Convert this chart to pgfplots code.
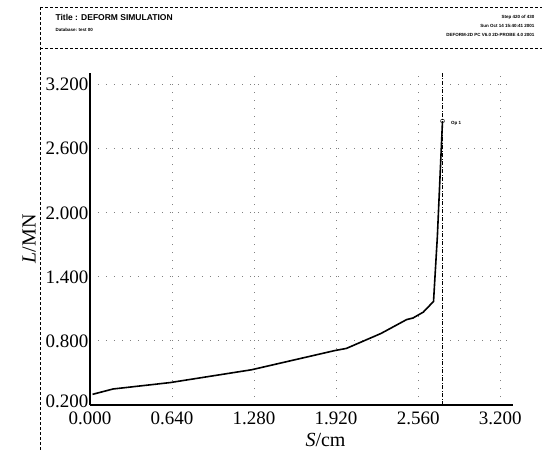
\documentclass[border=0pt]{standalone}
\usepackage{pgfplots}
\pgfplotsset{compat=1.18}
\usepackage{fontspec}
\setmainfont{Liberation Serif}
\newfontfamily\hdr{Liberation Sans}

\begin{document}
\begin{tikzpicture}[x=1pt,y=1pt]
\path[use as bounding box] (0,0) rectangle (542,451);
% header frame
\draw[densely dashed, line width=0.6pt] (40,444) -- (542,444);
\draw[densely dashed, line width=0.6pt] (40,403) -- (542,403);
\draw[densely dashed, line width=0.6pt] (40,444) -- (40,0);
\node[anchor=west, font=\hdr\bfseries\fontsize{8.5}{9}\selectfont] at (52,434) {Title : DEFORM SIMULATION};
\node[anchor=west, font=\hdr\bfseries\fontsize{4.5}{5}\selectfont] at (52,421) {Database: test 00};
\node[anchor=east, font=\hdr\bfseries\fontsize{4.5}{5}\selectfont] at (538,434) {Step 420 of 430};
\node[anchor=east, font=\hdr\bfseries\fontsize{4.5}{5}\selectfont] at (538,425) {Sun Oct 14 15:40:41 2001};
\node[anchor=east, font=\hdr\bfseries\fontsize{4.5}{5}\selectfont] at (538,416) {DEFORM-2D PC V6.0 2D-PROBE 4.0 2001};

\begin{axis}[
  at={(90pt,46pt)}, anchor=south west,
  scale only axis, width=423pt, height=332pt,
  xmin=0, xmax=3.3, ymin=0.2, ymax=3.31,
  axis lines=left,
  axis line style={-, line width=1.6pt},
  major tick length=0pt,
  xtick={0,0.64,1.28,1.92,2.56,3.2},
  xticklabels={0.000,0.640,1.280,1.920,2.560,3.200},
  ytick={0.2,0.8,1.4,2.0,2.6,3.2},
  yticklabels={\raisebox{7pt}{0.200},0.800,1.400,2.000,2.600,3.200},
  ticklabel style={font=\fontsize{19}{20}\selectfont},
  yticklabel style={xshift=2pt},
  xticklabel style={yshift=-3pt},
  grid=major,
  grid style={gray, line width=0.9pt, dash pattern=on 1pt off 7pt},
  xlabel={\textit{S}/cm},
  ylabel={\textit{L}/MN},
  label style={font=\fontsize{20}{21}\selectfont},
  xlabel style={xshift=24pt, yshift=-2pt},
  ylabel style={yshift=3pt},
  clip=false,
]
\addplot[black, line width=0.8pt, dash pattern=on 4pt off 1.5pt on 1pt off 1.5pt]
  coordinates {(2.75,0.2)(2.75,3.31)};
\addplot[black, line width=1.6pt]
  coordinates {(0.02,0.30)(0.18,0.35)(0.625,0.41)(1.26,0.53)(1.91,0.71)(2.0,0.73)
    (2.27,0.87)(2.47,1.00)(2.52,1.015)(2.60,1.07)(2.68,1.17)(2.71,1.78)(2.75,2.86)};
\addplot[only marks, mark=o, mark size=2pt, black] coordinates {(2.75,2.86)};
\node[anchor=west, font=\hdr\bfseries\fontsize{4.5}{5}\selectfont] at (axis cs:2.79,2.84) {Op 1};
\end{axis}
\end{tikzpicture}
\end{document}
